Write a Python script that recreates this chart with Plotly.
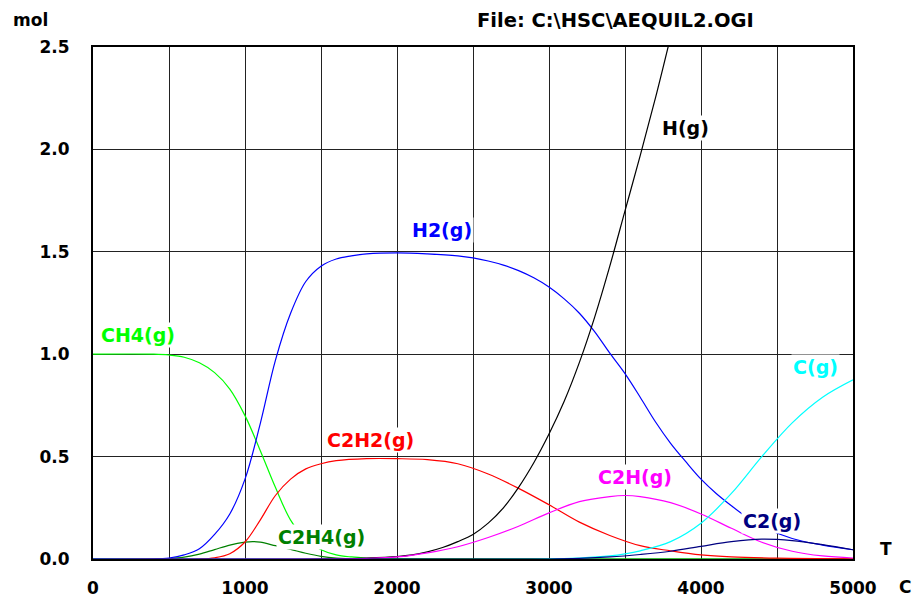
import plotly.graph_objects as go

# ---- data ----
T_CH4 = [0, 400, 500, 600, 700, 800, 900, 1000, 1100, 1200, 1300, 1400, 1500, 1600, 1700, 1800, 2000, 2500, 5000]
CH4   = [1.0, 1.0, 0.996, 0.985, 0.958, 0.91, 0.83, 0.70, 0.53, 0.35, 0.19, 0.095, 0.045, 0.02, 0.01, 0.005, 0.001, 0.0, 0.0]

T_C2H4 = [0, 400, 500, 600, 700, 800, 900, 1000, 1050, 1100, 1200, 1300, 1400, 1500, 1600, 1800, 2000, 5000]
C2H4   = [0.0, 0.0, 0.002, 0.009, 0.024, 0.046, 0.068, 0.082, 0.085, 0.082, 0.065, 0.047, 0.028, 0.013, 0.005, 0.001, 0.0, 0.0]

T_C2H2 = [0, 700, 800, 900, 1000, 1100, 1200, 1300, 1400, 1500, 1600, 1800, 2000, 2200, 2400, 2600, 2800, 3000, 3200, 3400, 3600, 3800, 4000, 4200, 4500, 5000]
C2H2   = [0.0, 0.0, 0.006, 0.026, 0.083, 0.19, 0.31, 0.39, 0.44, 0.465, 0.48, 0.49, 0.49, 0.485, 0.465, 0.415, 0.345, 0.265, 0.18, 0.115, 0.065, 0.04, 0.02, 0.01, 0.004, 0.001]

T_H2 = [0, 400, 500, 600, 700, 800, 900, 1000, 1100, 1200, 1300, 1400, 1500, 1600, 1700, 1800, 2000, 2200, 2400, 2500, 2600, 2700, 2800, 2900, 3000, 3100, 3200, 3300, 3400, 3500, 3600, 3700, 3800, 3900, 4000, 4100, 4200, 4300, 4400, 4600, 4800, 5000]
H2   = [0.0, 0.0, 0.005, 0.02, 0.05, 0.12, 0.22, 0.39, 0.66, 0.97, 1.20, 1.355, 1.43, 1.465, 1.48, 1.49, 1.495, 1.49, 1.48, 1.47, 1.455, 1.435, 1.408, 1.373, 1.328, 1.27, 1.20, 1.11, 1.005, 0.905, 0.79, 0.67, 0.565, 0.475, 0.39, 0.32, 0.26, 0.205, 0.16, 0.10, 0.068, 0.045]

T_H = [0, 1500, 1800, 2000, 2100, 2200, 2300, 2400, 2500, 2600, 2700, 2800, 2900, 3000, 3100, 3200, 3300, 3400, 3500, 3600, 3700, 3800]
H   = [0.0, 0.0, 0.005, 0.012, 0.02, 0.035, 0.056, 0.085, 0.12, 0.175, 0.25, 0.35, 0.47, 0.61, 0.77, 0.96, 1.18, 1.43, 1.70, 1.97, 2.25, 2.55]

T_C2H = [0, 1500, 1800, 2000, 2200, 2400, 2600, 2800, 3000, 3200, 3400, 3500, 3600, 3800, 4000, 4200, 4400, 4600, 4800, 5000]
C2H   = [0.0, 0.0, 0.003, 0.01, 0.03, 0.06, 0.105, 0.16, 0.225, 0.28, 0.305, 0.31, 0.305, 0.275, 0.22, 0.15, 0.082, 0.038, 0.015, 0.005]

T_C = [0, 3000, 3200, 3400, 3500, 3600, 3800, 4000, 4200, 4400, 4600, 4800, 5000]
C   = [0.0, 0.0, 0.005, 0.015, 0.025, 0.04, 0.085, 0.175, 0.32, 0.5, 0.665, 0.79, 0.875]

T_C2 = [0, 3000, 3200, 3400, 3600, 3800, 4000, 4200, 4400, 4600, 4800, 5000]
C2   = [0.0, 0.0, 0.003, 0.01, 0.022, 0.038, 0.062, 0.085, 0.097, 0.09, 0.07, 0.045]

x_ticks = [0, 500, 1000, 1500, 2000, 2500, 3000, 3500, 4000, 4500, 5000]
x_tick_text = ["0", "", "1000", "", "2000", "", "3000", "", "4000", "", "5000"]
y_ticks = [0, 0.5, 1.0, 1.5, 2.0, 2.5]
y_tick_text = ["0.0", "0.5", "1.0", "1.5", "2.0", "2.5"]

series = [
    ("CH4(g)", T_CH4, CH4, "#00ff00"),
    ("C2H4(g)", T_C2H4, C2H4, "#008000"),
    ("C2H2(g)", T_C2H2, C2H2, "#ff0000"),
    ("H2(g)", T_H2, H2, "#0000ff"),
    ("H(g)", T_H, H, "#000000"),
    ("C2H(g)", T_C2H, C2H, "#ff00ff"),
    ("C(g)", T_C, C, "#00ffff"),
    ("C2(g)", T_C2, C2, "#000080"),
]

# label placement (data coordinates)
label_pos = {
    "CH4(g)": (296, 1.094),
    "C2H4(g)": (1503, 0.107),
    "C2H2(g)": (1825, 0.581),
    "H2(g)": (2293, 1.606),
    "H(g)": (3901, 2.104),
    "C2H(g)": (3566, 0.40),
    "C(g)": (4750, 0.9375),
    "C2(g)": (4467, 0.186),
}

FONT = "DejaVu Sans"

fig = go.Figure()
for name, t, v, col in series:
    fig.add_trace(go.Scatter(x=t, y=v, mode="lines", name=name,
                             line=dict(color=col, width=1.2, shape="spline", smoothing=1.0)))

for name, t, v, col in series:
    lx, ly = label_pos[name]
    fig.add_annotation(x=lx, y=ly, xref="x", yref="y", text=name, showarrow=False,
                       font=dict(family=FONT, size=19, color=col, weight="bold"),
                       bgcolor="white", borderpad=1)

L, R, TOP, B = 93, 67, 47, 39
PW, PH = 920 - L - R, 598 - TOP - B

def px(xp):
    return (xp - L) / PW

def py(yp):
    return (598 - B - yp) / PH

extra = [
    ("File: C:\\HSC\\AEQUIL2.OGI", 615, 20, 19.5),
    ("mol", 30, 20, 17),
    ("T", 886, 549, 17),
    ("C", 905, 587, 17),
]
for txt, xx, yy, fs in extra:
    fig.add_annotation(x=px(xx), y=py(yy), xref="paper", yref="paper", text=txt,
                       showarrow=False, xanchor="center", yanchor="middle",
                       font=dict(family=FONT, size=fs, color="black", weight="bold"))

fig.update_layout(
    width=920, height=598,
    margin=dict(l=L, r=R, t=TOP, b=B, autoexpand=False),
    paper_bgcolor="white", plot_bgcolor="white",
    showlegend=False,
    xaxis=dict(range=[0, 5000], tickvals=x_ticks, ticktext=x_tick_text, automargin=False,
               showgrid=True, gridcolor="#222", gridwidth=1, zeroline=False,
               showline=True, linecolor="black", linewidth=2, mirror=True,
               ticks="", ticklabelstandoff=13,
               tickfont=dict(family=FONT, size=17, color="black", weight="bold")),
    yaxis=dict(range=[0, 2.5], tickvals=y_ticks, ticktext=y_tick_text, automargin=False,
               showgrid=True, gridcolor="#222", gridwidth=1, zeroline=False,
               showline=True, linecolor="black", linewidth=2, mirror=True,
               ticks="", ticklabelstandoff=18,
               tickfont=dict(family=FONT, size=17, color="black", weight="bold")),
)

fig.write_html("out.html")
